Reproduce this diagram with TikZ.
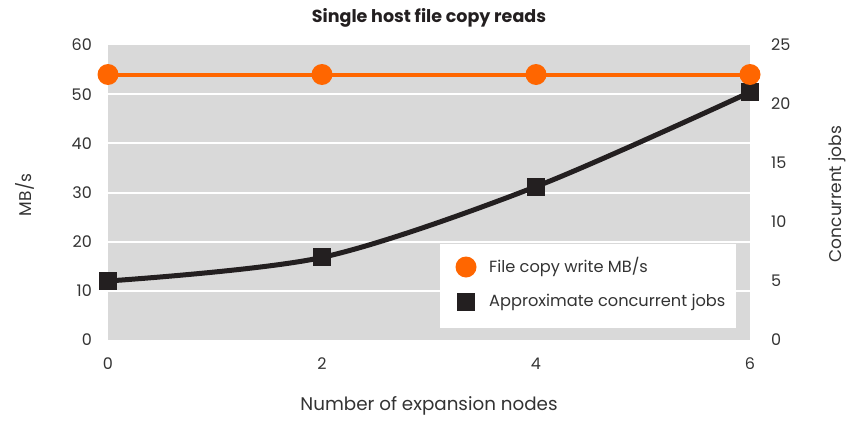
\documentclass[tikz,border=0pt]{standalone}
\usepackage{fontspec}
\setmainfont{Poppins}
\definecolor{plotgray}{HTML}{D9D9D9}
\definecolor{accent}{HTML}{FF6600}
\definecolor{ink}{HTML}{231F20}
\definecolor{textgray}{HTML}{333333}
\begin{document}
\begin{tikzpicture}[x=1pt,y=-1pt,
  ticklabel/.style={font=\fontsize{16}{16}\selectfont, text=textgray, inner sep=0pt},
  axistitle/.style={font=\fontsize{17}{17}\selectfont, text=textgray, inner sep=0pt},
  legendtext/.style={font=\fontsize{16.2}{17}\selectfont, text=textgray, inner sep=0pt, anchor=west},
  gridline/.style={white, line width=2pt},
  mbline/.style={accent, line width=4pt},
  jobline/.style={ink, line width=5pt, line join=round},
  mbmark/.style={circle, fill=accent, minimum size=21pt, inner sep=0pt},
  jobmark/.style={rectangle, fill=ink, minimum size=18pt, inner sep=0pt}]
\useasboundingbox (0,0) rectangle (848,423);

% plot area
\fill[plotgray] (108,45) rectangle (750,340);
\foreach \v in {10,20,30,40,50}
  \draw[gridline] (108,{340-\v*4.91667}) -- (750,{340-\v*4.91667});

% left axis ticks (MB/s)
\foreach \v in {0,10,...,60}
  \node[ticklabel, anchor=east] (l\v) at (92,{340-\v*4.91667}) {\v};
% right axis ticks (jobs)
\foreach \v in {0,5,...,25}
  \node[ticklabel, anchor=west] (r\v) at (771,{340-\v*11.8}) {\v};
% x ticks
\foreach \n in {0,2,4,6}
  \node[ticklabel] (x\n) at ({108+\n*107},364) {\n};

% titles
\node[font=\fontsize{17.5}{18}\selectfont\bfseries, text=ink, inner sep=0pt] (title) at (429,18) {Single host file copy reads};
\node[axistitle, font=\fontsize{18.3}{18}\selectfont] (xtitle) at (429,406) {Number of expansion nodes};
\node[axistitle, rotate=90] (ytitle) at (25,195) {MB/s};
\node[axistitle, rotate=90] (y2title) at (837,194) {Concurrent jobs};

% data points
\coordinate (j0) at (108,281);
\coordinate (j2) at (322,257.4);
\coordinate (j4) at (536,186.6);
\coordinate (j6) at (750,92.2);
\coordinate (m0) at (108,74.5);
\coordinate (m2) at (322,74.5);
\coordinate (m4) at (536,74.5);
\coordinate (m6) at (750,74.5);

% approximate concurrent jobs
\draw[jobline] plot[smooth, tension=0.5] coordinates {(j0) (j2) (j4) (j6)};
\foreach \p in {j0,j2,j4,j6}
  \node[jobmark] (mk\p) at (\p) {};

% file copy write MB/s
\draw[mbline] (m0) -- (m2) -- (m4) -- (m6);
\foreach \p in {m0,m2,m4,m6}
  \node[mbmark] (mk\p) at (\p) {};

% legend
\node[fill=white, minimum width=296pt, minimum height=84pt, inner sep=0pt, anchor=north west] (legend) at (440,244) {};
\node[mbmark] (legmb) at (466,267) {};
\node[jobmark] (legjob) at (466,302) {};
\node[legendtext] (legmbtext) at (489,267) {File copy write MB/s};
\node[legendtext] (legjobtext) at (489,302) {Approximate concurrent jobs};
\end{tikzpicture}
\end{document}
